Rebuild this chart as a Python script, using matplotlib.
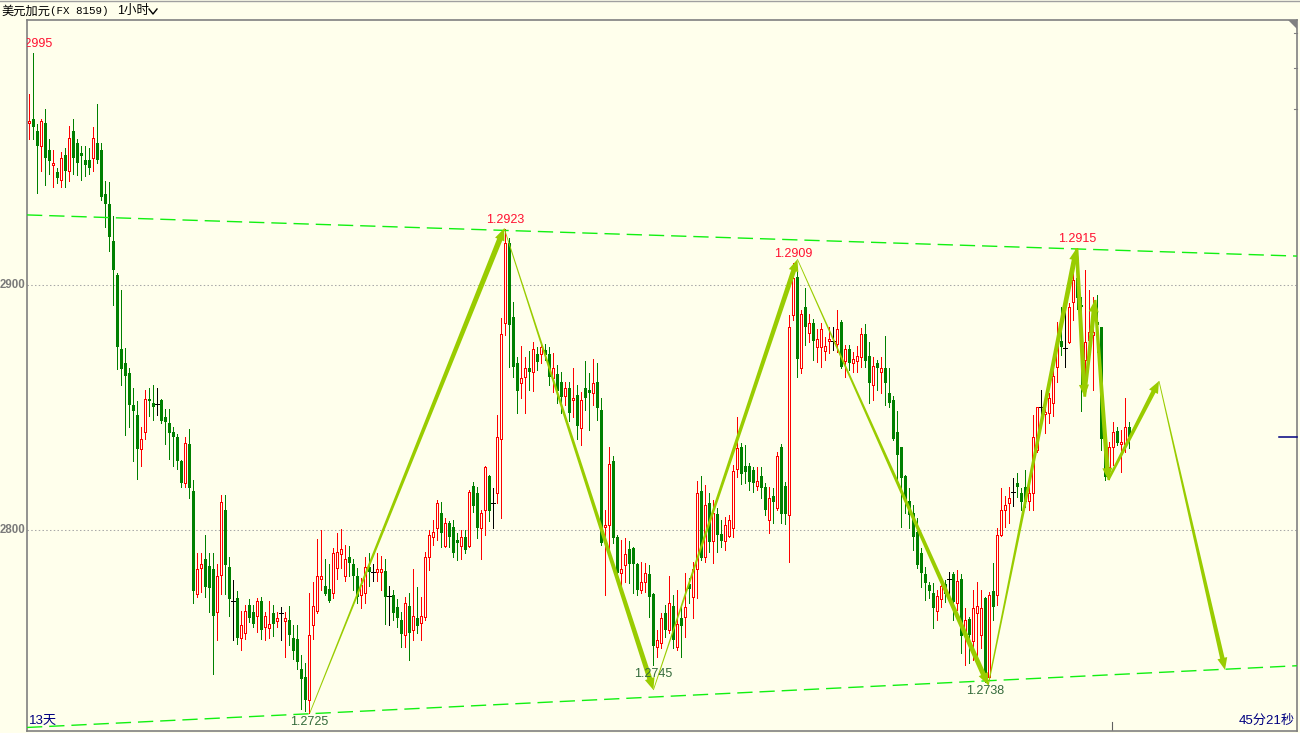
import numpy as np
import matplotlib
matplotlib.use('Agg')
import matplotlib.pyplot as plt
from matplotlib.patches import Polygon
from matplotlib.lines import Line2D
from matplotlib.transforms import IdentityTransform

# USD/CAD 1h candles
opens = [
    1.29661, 1.29677, 1.29628, 1.29567, 1.29661, 1.29551, 1.29488, 1.29463, 1.29429, 1.29530,
    1.29467, 1.29628, 1.29578, 1.29539, 1.29512, 1.29510, 1.29517, 1.29580, 1.29551, 1.29372,
    1.29330, 1.29179, 1.29041, 1.28739, 1.28680, 1.28641, 1.28511, 1.28468, 1.28330, 1.28400,
    1.28536, 1.28519, 1.28513, 1.28531, 1.28461, 1.28438, 1.28398, 1.28380, 1.28281, 1.28190,
    1.28352, 1.28159, 1.27737, 1.27845, 1.27881, 1.27854, 1.27840, 1.27666, 1.27818, 1.28082,
    1.27847, 1.27710, 1.27723, 1.27558, 1.27579, 1.27693, 1.27666, 1.27648, 1.27710, 1.27606,
    1.27599, 1.27662, 1.27630, 1.27660, 1.27630, 1.27633, 1.27558, 1.27554, 1.27432, 1.27402,
    1.27306, 1.27612, 1.27669, 1.27800, 1.27770, 1.27759, 1.27741, 1.27845, 1.27903, 1.27813,
    1.27890, 1.27863, 1.27813, 1.27734, 1.27741, 1.27851, 1.27827, 1.27827, 1.27827, 1.27831,
    1.27732, 1.27734, 1.27684, 1.27633, 1.27572, 1.27690, 1.27592, 1.27642, 1.27622, 1.27646,
    1.27889, 1.27970, 1.28010, 1.28068, 1.27936, 1.28027, 1.28011, 1.27959, 1.27936, 1.27973,
    1.27936, 1.28180, 1.28150, 1.28010, 1.28082, 1.28221, 1.28109, 1.28150, 1.28370, 1.28844,
    1.29170, 1.28868, 1.28680, 1.28599, 1.28626, 1.28660, 1.28646, 1.28718, 1.28718, 1.28735,
    1.28718, 1.28619, 1.28637, 1.28606, 1.28548, 1.28578, 1.28531, 1.28551, 1.28418, 1.28578,
    1.28572, 1.28558, 1.28606, 1.28490, 1.28011, 1.28021, 1.28282, 1.27970, 1.27826, 1.27857,
    1.27921, 1.27925, 1.27861, 1.27755, 1.27789, 1.27821, 1.27739, 1.27524, 1.27538, 1.27660,
    1.27592, 1.27690, 1.27524, 1.27640, 1.27646, 1.27778, 1.27728, 1.27840, 1.28159, 1.27891,
    1.28109, 1.27957, 1.28064, 1.27982, 1.27957, 1.27977, 1.28010, 1.28248, 1.28338, 1.28261,
    1.28261, 1.28245, 1.28180, 1.28221, 1.28174, 1.28041, 1.28139, 1.28089, 1.28337, 1.28179,
    1.28061, 1.28877, 1.29031, 1.28660, 1.28909, 1.28805, 1.28846, 1.28748, 1.28748, 1.28732,
    1.28771, 1.28772, 1.28759, 1.28847, 1.28690, 1.28737, 1.28680, 1.28690, 1.28707, 1.28798,
    1.28710, 1.28592, 1.28683, 1.28646, 1.28660, 1.28558, 1.28530, 1.28398, 1.28337, 1.28220,
    1.28120, 1.28068, 1.27993, 1.27907, 1.27820, 1.27775, 1.27744, 1.27670, 1.27717, 1.27779,
    1.27798, 1.27820, 1.27703, 1.27798, 1.27571, 1.27635, 1.27548, 1.27660, 1.27571, 1.27721,
    1.27401, 1.27752, 1.27734, 1.27979, 1.28081, 1.28109, 1.28156, 1.28190, 1.28149, 1.28177,
    1.28118, 1.28149, 1.28326, 1.28500, 1.28472, 1.28479, 1.28517, 1.28666, 1.28772, 1.28741,
    1.28768, 1.28932, 1.29027, 1.28918, 1.28694, 1.28775, 1.28796, 1.28850, 1.28827, 1.28370,
    1.28258, 1.28337, 1.28405, 1.28351, 1.28353, 1.28419,
]
highs = [
    1.29779, 1.29946, 1.29659, 1.29677, 1.29718, 1.29596, 1.29551, 1.29479, 1.29542, 1.29560,
    1.29650, 1.29677, 1.29596, 1.29569, 1.29569, 1.29560, 1.29644, 1.29740, 1.29578, 1.29425,
    1.29420, 1.29282, 1.29048, 1.28980, 1.28743, 1.28662, 1.28581, 1.28528, 1.28420, 1.28572,
    1.28581, 1.28590, 1.28581, 1.28536, 1.28492, 1.28492, 1.28420, 1.28393, 1.28285, 1.28378,
    1.28411, 1.28204, 1.27908, 1.27908, 1.27980, 1.27908, 1.27908, 1.27863, 1.28141, 1.28141,
    1.27890, 1.27795, 1.27752, 1.27669, 1.27693, 1.27719, 1.27693, 1.27723, 1.27728, 1.27666,
    1.27710, 1.27693, 1.27666, 1.27684, 1.27666, 1.27689, 1.27612, 1.27612, 1.27490, 1.27459,
    1.27741, 1.27788, 1.27962, 1.27998, 1.27881, 1.27863, 1.27926, 1.27989, 1.28003, 1.27939,
    1.27935, 1.27881, 1.27845, 1.27806, 1.27890, 1.27908, 1.27863, 1.27908, 1.27895, 1.27881,
    1.27773, 1.27755, 1.27719, 1.27666, 1.27728, 1.27742, 1.27840, 1.27769, 1.27728, 1.27912,
    1.28000, 1.28041, 1.28123, 1.28116, 1.28048, 1.28038, 1.28041, 1.27986, 1.28000, 1.28000,
    1.28163, 1.28197, 1.28177, 1.28082, 1.28261, 1.28225, 1.28170, 1.28469, 1.28864, 1.29227,
    1.29191, 1.28932, 1.28708, 1.28751, 1.28708, 1.28732, 1.28769, 1.28748, 1.28759, 1.28759,
    1.28748, 1.28721, 1.28674, 1.28646, 1.28606, 1.28606, 1.28660, 1.28592, 1.28565, 1.28691,
    1.28640, 1.28697, 1.28680, 1.28538, 1.28082, 1.28338, 1.28302, 1.27980, 1.27959, 1.27966,
    1.27957, 1.27932, 1.27864, 1.27871, 1.27864, 1.27857, 1.27742, 1.27592, 1.27660, 1.27694,
    1.27812, 1.27735, 1.27755, 1.27694, 1.27823, 1.27803, 1.27871, 1.28200, 1.28221, 1.28184,
    1.28150, 1.28123, 1.28089, 1.28041, 1.28052, 1.28061, 1.28265, 1.28460, 1.28357, 1.28347,
    1.28272, 1.28259, 1.28259, 1.28259, 1.28191, 1.28177, 1.28170, 1.28320, 1.28351, 1.28197,
    1.28877, 1.29088, 1.29075, 1.28898, 1.28986, 1.28881, 1.28860, 1.28819, 1.28843, 1.28789,
    1.28827, 1.28827, 1.28898, 1.28857, 1.28755, 1.28755, 1.28728, 1.28751, 1.28823, 1.28841,
    1.28768, 1.28707, 1.28694, 1.28707, 1.28792, 1.28660, 1.28547, 1.28487, 1.28340, 1.28224,
    1.28173, 1.28102, 1.28047, 1.27925, 1.27850, 1.27789, 1.27782, 1.27755, 1.27802, 1.27796,
    1.27830, 1.27830, 1.27836, 1.27820, 1.27680, 1.27646, 1.27755, 1.27789, 1.27755, 1.27728,
    1.27748, 1.27864, 1.28007, 1.28170, 1.28139, 1.28177, 1.28211, 1.28231, 1.28170, 1.28245,
    1.28204, 1.28469, 1.28503, 1.28571, 1.28530, 1.28558, 1.28666, 1.28850, 1.28909, 1.28900,
    1.28925, 1.29054, 1.29149, 1.28952, 1.29061, 1.28979, 1.28952, 1.28959, 1.28830, 1.28381,
    1.28360, 1.28442, 1.28421, 1.28408, 1.28537, 1.28442,
]
lows = [
    1.29596, 1.29596, 1.29377, 1.29467, 1.29407, 1.29452, 1.29398, 1.29416, 1.29398, 1.29398,
    1.29425, 1.29452, 1.29447, 1.29429, 1.29443, 1.29452, 1.29467, 1.29497, 1.29348, 1.29237,
    1.29138, 1.28917, 1.28659, 1.28590, 1.28389, 1.28420, 1.28280, 1.28210, 1.28262, 1.28373,
    1.28465, 1.28447, 1.28470, 1.28438, 1.28353, 1.28291, 1.28262, 1.28249, 1.28177, 1.28177,
    1.28129, 1.27701, 1.27728, 1.27746, 1.27728, 1.27666, 1.27411, 1.27549, 1.27737, 1.27737,
    1.27648, 1.27549, 1.27536, 1.27509, 1.27554, 1.27626, 1.27606, 1.27585, 1.27554, 1.27549,
    1.27558, 1.27567, 1.27603, 1.27549, 1.27481, 1.27531, 1.27472, 1.27432, 1.27271, 1.27262,
    1.27253, 1.27554, 1.27662, 1.27755, 1.27734, 1.27705, 1.27723, 1.27800, 1.27845, 1.27791,
    1.27813, 1.27755, 1.27701, 1.27680, 1.27701, 1.27773, 1.27791, 1.27791, 1.27755, 1.27615,
    1.27612, 1.27633, 1.27606, 1.27522, 1.27524, 1.27470, 1.27551, 1.27578, 1.27551, 1.27633,
    1.27837, 1.27939, 1.27959, 1.27932, 1.27932, 1.27929, 1.27889, 1.27878, 1.27880, 1.27905,
    1.27932, 1.28075, 1.27966, 1.27880, 1.27980, 1.28038, 1.28007, 1.28109, 1.28048, 1.28796,
    1.28667, 1.28626, 1.28479, 1.28538, 1.28479, 1.28572, 1.28569, 1.28653, 1.28680, 1.28694,
    1.28592, 1.28565, 1.28517, 1.28476, 1.28510, 1.28446, 1.28463, 1.28370, 1.28347, 1.28490,
    1.28408, 1.28510, 1.28449, 1.27939, 1.27735, 1.27918, 1.27946, 1.27816, 1.27769, 1.27789,
    1.27782, 1.27742, 1.27735, 1.27742, 1.27748, 1.27646, 1.27449, 1.27483, 1.27517, 1.27565,
    1.27578, 1.27517, 1.27510, 1.27483, 1.27565, 1.27701, 1.27640, 1.27721, 1.27878, 1.27871,
    1.27912, 1.27867, 1.27912, 1.27932, 1.27918, 1.27970, 1.27973, 1.28218, 1.28188, 1.28191,
    1.28163, 1.28157, 1.28163, 1.28129, 1.28061, 1.27989, 1.28027, 1.28082, 1.28027, 1.28024,
    1.27870, 1.28857, 1.28626, 1.28639, 1.28755, 1.28768, 1.28694, 1.28687, 1.28666, 1.28694,
    1.28721, 1.28734, 1.28728, 1.28660, 1.28626, 1.28653, 1.28646, 1.28646, 1.28666, 1.28666,
    1.28517, 1.28530, 1.28571, 1.28558, 1.28510, 1.28503, 1.28367, 1.28204, 1.28013, 1.28068,
    1.28007, 1.27918, 1.27843, 1.27768, 1.27714, 1.27721, 1.27598, 1.27632, 1.27687, 1.27707,
    1.27714, 1.27632, 1.27673, 1.27496, 1.27449, 1.27456, 1.27469, 1.27462, 1.27517, 1.27381,
    1.27388, 1.27632, 1.27694, 1.27975, 1.28013, 1.28027, 1.28098, 1.28136, 1.28081, 1.28095,
    1.28081, 1.28081, 1.28320, 1.28449, 1.28394, 1.28438, 1.28465, 1.28605, 1.28714, 1.28666,
    1.28762, 1.28857, 1.28904, 1.28487, 1.28564, 1.28694, 1.28571, 1.28728, 1.28326, 1.28204,
    1.28207, 1.28265, 1.28347, 1.28238, 1.28320, 1.28333,
]
closes = [
    1.29671, 1.29646, 1.29567, 1.29668, 1.29517, 1.29508, 1.29497, 1.29438, 1.29519, 1.29467,
    1.29600, 1.29517, 1.29497, 1.29528, 1.29488, 1.29476, 1.29600, 1.29510, 1.29359, 1.29330,
    1.29197, 1.29061, 1.28748, 1.28659, 1.28628, 1.28510, 1.28486, 1.28330, 1.28371, 1.28536,
    1.28528, 1.28501, 1.28513, 1.28445, 1.28441, 1.28396, 1.28378, 1.28281, 1.28190, 1.28357,
    1.28172, 1.27750, 1.27842, 1.27860, 1.27768, 1.27764, 1.27648, 1.27813, 1.28115, 1.27858,
    1.27719, 1.27710, 1.27558, 1.27612, 1.27669, 1.27639, 1.27617, 1.27710, 1.27590, 1.27648,
    1.27615, 1.27617, 1.27642, 1.27660, 1.27642, 1.27570, 1.27508, 1.27463, 1.27391, 1.27306,
    1.27572, 1.27689, 1.27813, 1.27813, 1.27737, 1.27710, 1.27908, 1.27912, 1.27922, 1.27881,
    1.27867, 1.27813, 1.27728, 1.27777, 1.27849, 1.27827, 1.27827, 1.27842, 1.27842, 1.27728,
    1.27732, 1.27662, 1.27642, 1.27576, 1.27701, 1.27578, 1.27649, 1.27608, 1.27649, 1.27889,
    1.27980, 1.27991, 1.28109, 1.27989, 1.28030, 1.27970, 1.27908, 1.27948, 1.27970, 1.27918,
    1.28157, 1.28099, 1.28010, 1.28068, 1.28259, 1.28079, 1.28109, 1.28378, 1.28799, 1.29170,
    1.28837, 1.28667, 1.28567, 1.28619, 1.28660, 1.28646, 1.28737, 1.28687, 1.28748, 1.28714,
    1.28626, 1.28660, 1.28569, 1.28544, 1.28578, 1.28479, 1.28538, 1.28425, 1.28531, 1.28538,
    1.28558, 1.28599, 1.28499, 1.27946, 1.28021, 1.28268, 1.27966, 1.27826, 1.27840, 1.27902,
    1.27860, 1.27860, 1.27755, 1.27789, 1.27826, 1.27728, 1.27527, 1.27551, 1.27640, 1.27592,
    1.27701, 1.27551, 1.27616, 1.27608, 1.27687, 1.27758, 1.27840, 1.28150, 1.27887, 1.28102,
    1.27952, 1.28068, 1.27980, 1.27957, 1.28021, 1.28041, 1.28241, 1.28333, 1.28227, 1.28238,
    1.28197, 1.28193, 1.28200, 1.28170, 1.28082, 1.28129, 1.28116, 1.28302, 1.28065, 1.28065,
    1.28827, 1.29027, 1.28696, 1.28880, 1.28827, 1.28846, 1.28772, 1.28779, 1.28819, 1.28751,
    1.28779, 1.28772, 1.28819, 1.28666, 1.28737, 1.28680, 1.28696, 1.28710, 1.28798, 1.28690,
    1.28598, 1.28669, 1.28660, 1.28660, 1.28598, 1.28517, 1.28370, 1.28306, 1.28211, 1.28122,
    1.28061, 1.27973, 1.27857, 1.27826, 1.27782, 1.27752, 1.27680, 1.27730, 1.27771, 1.27739,
    1.27798, 1.27707, 1.27793, 1.27567, 1.27632, 1.27571, 1.27683, 1.27690, 1.27680, 1.27394,
    1.27734, 1.27687, 1.27979, 1.28081, 1.28102, 1.28129, 1.28156, 1.28177, 1.28115, 1.28115,
    1.28149, 1.28378, 1.28500, 1.28500, 1.28483, 1.28537, 1.28628, 1.28755, 1.28745, 1.28741,
    1.28909, 1.29020, 1.28945, 1.28911, 1.28768, 1.28809, 1.28809, 1.28836, 1.28370, 1.28217,
    1.28337, 1.28401, 1.28356, 1.28360, 1.28419, 1.28381,
]

# marked swing highs / lows (candle index)
high_marks = [1, 119, 191, 262]
low_marks = [70, 156, 239]

# channel lines: value at left edge and at right edge of the plot
upper_line = [1.29286, 1.29118]
lower_line = [1.27194, 1.27446]

# zigzag arrow path (candle index, price)
zz_x = [70.2, 118.8, 156.1, 192.1, 239.8, 261.9, 263.9, 266.5, 269.8, 282.5, 299.0]
zz_y = [1.27253, 1.29231, 1.27347, 1.29105, 1.27367, 1.29150, 1.28544, 1.28939, 1.28204, 1.28608, 1.27429]

# grid levels and the part of their label left visible at the window edge
grid_levels = [1.29, 1.28]
grid_labels = ['2900', '2800']

W, H = 1300, 733
BG = '#ffffec'
UP = '#ff0000'
DN = '#008000'
ARROW = '#99cc00'
FRAME = '#808080'

fig = plt.figure(figsize=(W / 100, H / 100), dpi=100, facecolor=BG)
ax = fig.add_axes([27 / W, 2 / H, 1270 / W, 711 / H], facecolor=BG)
ax.set_xlim(-0.5, 317)
ax.set_ylim(1.271796, 1.300816)
ax.set_xticks([])
ax.set_yticks([])
for s in ax.spines.values():
    s.set_color(FRAME)
    s.set_linewidth(1.2)

# grid + left labels
for g, lab in zip(grid_levels, grid_labels):
    ax.axhline(g, color='#a8a8a8', lw=0.75, ls=(0, (1.4, 2.2)), zorder=1)
    ax.annotate(lab, xy=(0, g), xycoords=('axes fraction', 'data'),
                xytext=(-2, 0), textcoords='offset pixels', ha='right', va='center',
                fontsize=8.3, fontweight='bold', color='#7a7a7a',
                family='Liberation Sans', annotation_clip=False)

# candles
o, h, l, c = map(np.array, (opens, highs, lows, closes))
idx = np.arange(len(c))
up = c > o
dn = c < o
fl = c == o
cols = np.where(up, UP, np.where(dn, DN, '#000000'))
ax.vlines(idx, l, h, colors=cols, linewidth=0.72, zorder=2, antialiased=False)
ax.bar(idx[up], (c - o)[up], bottom=o[up], width=0.55, facecolor=BG,
       edgecolor=UP, linewidth=0.72, zorder=3, antialiased=False)
ax.bar(idx[dn], (o - c)[dn], bottom=c[dn], width=0.75, color=DN,
       linewidth=0, zorder=3, antialiased=False)
ax.hlines(o[fl], idx[fl] - 0.4, idx[fl] + 0.4, colors='#000000',
          linewidth=0.72, zorder=3, antialiased=False)

# channel
ax.plot([-0.5, 317], upper_line, color='#11f011', lw=1.0, dashes=(11, 5), zorder=4)
ax.plot([-0.5, 317], lower_line, color='#11f011', lw=1.0, dashes=(11, 5), zorder=4)

# tapered zigzag arrows, drawn in pixel space
seg_w = [(0.8, 5.5), (0.8, 5), (0.8, 5), (0.8, 5), (1.2, 5),
         (3.5, 4.5), (3, 4.5), (3, 4.5), (2.5, 4.5), (0.8, 4.5)]


def taper_arrow(p0, p1, w0, w1, head_len=12, head_w=5):
    a = ax.transData.transform(p0)
    b = ax.transData.transform(p1)
    d = b - a
    u = d / np.hypot(*d)
    n = np.array([-u[1], u[0]])
    base = b - u * head_len
    pts = [a + n * w0 / 2, base + n * w1 / 2, base + n * head_w, b,
           base - n * head_w, base - n * w1 / 2, a - n * w0 / 2]
    ax.add_patch(Polygon(pts, closed=True, transform=IdentityTransform(),
                         facecolor=ARROW, edgecolor='none', zorder=5))


for k in range(len(zz_x) - 1):
    taper_arrow((zz_x[k], zz_y[k]), (zz_x[k + 1], zz_y[k + 1]), *seg_w[k])

# swing labels
for i in high_marks:
    ax.annotate(f'{highs[i]:.4f}', (i, highs[i]), xytext=(0, 9), textcoords='offset pixels',
                ha='center', va='center', fontsize=9, color='#ff1030',
                family='Liberation Sans', zorder=6, clip_on=True)
for i in low_marks:
    ax.annotate(f'{lows[i]:.4f}', (i, lows[i]), xytext=(0, -9), textcoords='offset pixels',
                ha='center', va='center', fontsize=9, color='#336a3a',
                family='Liberation Sans', zorder=6, clip_on=True)

# last price marker
ax.plot([312.5, 317], [closes[-1], closes[-1]], color='#000080', lw=1.1,
        clip_on=False, zorder=6)

# small frame ticks / corner mark
for yp in (33, 68, 109):
    ya = (731 - yp) / 711
    ax.plot([1 - 3 / 1270, 1], [ya, ya], transform=ax.transAxes, color=FRAME,
            lw=0.8, clip_on=False)
ax.plot([(1112 - 27) / 1270] * 2, [0, 9 / 711], transform=ax.transAxes,
        color='#606060', lw=0.8)
ax.add_patch(Polygon([(1 - 9 / 1270, 1), (1, 1), (1, 1 - 9 / 711)], closed=True,
                     transform=ax.transAxes, facecolor=FRAME, edgecolor='none',
                     clip_on=False))

# bottom texts
cjk = ['Liberation Sans', 'Noto Sans CJK SC']
ax.text(2 / 1270, 10 / 711, '13天', transform=ax.transAxes, ha='left', va='center',
        fontsize=9.5, color='#000080', family=cjk, zorder=7)
ax.text(1 - 2 / 1270, 10 / 711, '45分21秒', transform=ax.transAxes, ha='right',
        va='center', fontsize=9.5, color='#000080', family=cjk, zorder=7)

# header
fig.text(1 / W, 1 - 11 / H, '美元加元', family='Noto Sans CJK SC', fontsize=8.8,
         va='center', ha='left', color='#000000')
fig.text(50 / W, 1 - 11 / H, '(FX 8159)', family='Liberation Mono', fontsize=7.8,
         va='center', ha='left', color='#000000')
fig.text(117 / W, 1 - 11 / H, '1小时', family=cjk, fontsize=9,
         va='center', ha='left', color='#000000')
fig.add_artist(Line2D([149 / W, 153 / W, 157 / W], [1 - 9 / H, 1 - 14 / H, 1 - 9 / H],
                      transform=fig.transFigure, color='#000000', lw=1.0))
fig.add_artist(Line2D([0, 1], [1 - 0.5 / H, 1 - 0.5 / H], transform=fig.transFigure,
                      color='#a0a0a0', lw=1.0))

fig.savefig('out.png', dpi=100, facecolor=BG)
